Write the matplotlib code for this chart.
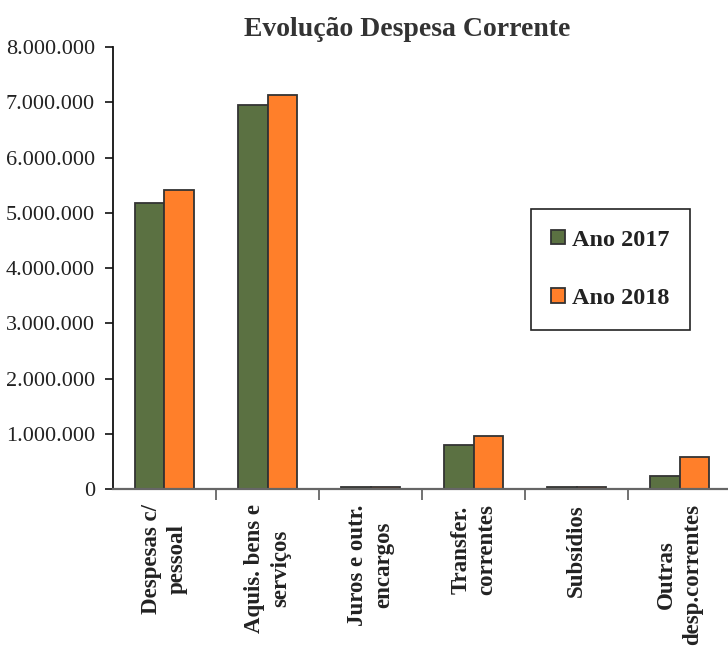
import numpy as np
import matplotlib
matplotlib.use("Agg")
import matplotlib.pyplot as plt
from matplotlib.ticker import FuncFormatter, FixedLocator

# rubricas da despesa corrente e valores (EUR) por ano
categorias = [
    "Despesas c/\npessoal",
    "Aquis. bens e\nserviços",
    "Juros e outr.\nencargos",
    "Transfer.\ncorrentes",
    "Subsídios",
    "Outras\ndesp.correntes",
]
ano_2017 = [5170000, 6950000, 40000, 800000, 30000, 230000]
ano_2018 = [5420000, 7130000, 30000, 960000, 30000, 580000]

VERDE = "#5b7142"
LARANJA = "#ff7f2a"
SERIF = "Liberation Serif"


def milhares(v, _pos):
    return f"{int(v):,}".replace(",", ".")


def main():
    fig = plt.figure(figsize=(7.28, 6.49), dpi=100)
    ax = fig.add_axes([0.1552, 0.2465, 0.849, 0.681])

    x = np.arange(len(categorias))
    w = 0.286
    ax.bar(x - w / 2, ano_2017, w, color=VERDE, edgecolor="#333333",
           linewidth=1.3, label="Ano 2017")
    ax.bar(x + w / 2, ano_2018, w, color=LARANJA, edgecolor="#333333",
           linewidth=1.3, label="Ano 2018")

    ax.set_xlim(-0.5, len(categorias) - 0.5)
    ax.set_ylim(0, 8000000)
    ax.set_yticks(np.arange(0, 8000001, 1000000))
    ax.yaxis.set_major_formatter(FuncFormatter(milhares))

    # marcas entre categorias, rótulos no centro
    ax.xaxis.set_major_locator(FixedLocator(np.arange(0.5, len(categorias) - 1, 1.0)))
    ax.xaxis.set_minor_locator(FixedLocator(x))
    ax.set_xticklabels([], minor=False)
    ax.set_xticklabels(categorias, minor=True, rotation=90, fontsize=16.5,
                       fontweight="bold", family=SERIF, va="top", ha="center",
                       multialignment="center", color="#222222", linespacing=1.3)
    ax.tick_params(axis="x", which="major", direction="out", length=8,
                   width=1.3, color="#666666")
    ax.tick_params(axis="x", which="minor", length=0, pad=11)
    ax.tick_params(axis="y", direction="out", length=6, width=1.2,
                   color="#111111", pad=7)
    for lab in ax.get_yticklabels():
        lab.set_family(SERIF)
        lab.set_fontsize(16)
        lab.set_color("#222222")

    ax.spines["top"].set_visible(False)
    ax.spines["right"].set_visible(False)
    ax.spines["left"].set_color("#111111")
    ax.spines["left"].set_linewidth(1.3)
    ax.spines["bottom"].set_color("#666666")
    ax.spines["bottom"].set_linewidth(1.6)

    fig.text(0.560, 0.955, "Evolução Despesa Corrente", ha="center", va="center",
             fontsize=20, fontweight="bold", family=SERIF, color="#333333")

    leg = fig.legend(loc="upper left", bbox_to_anchor=(0.729, 0.678),
                     prop={"family": SERIF, "weight": "bold", "size": 17.5},
                     frameon=True, fancybox=False, shadow=False, framealpha=1,
                     edgecolor="#222222", borderpad=0.85, labelspacing=1.55,
                     handlelength=0.55, handleheight=0.55, handletextpad=0.3,
                     borderaxespad=0)
    leg.get_frame().set_linewidth(1.2)
    for t in leg.get_texts():
        t.set_color("#222222")

    fig.savefig("out.png", dpi=100)
    plt.close(fig)


if __name__ == "__main__":
    main()
